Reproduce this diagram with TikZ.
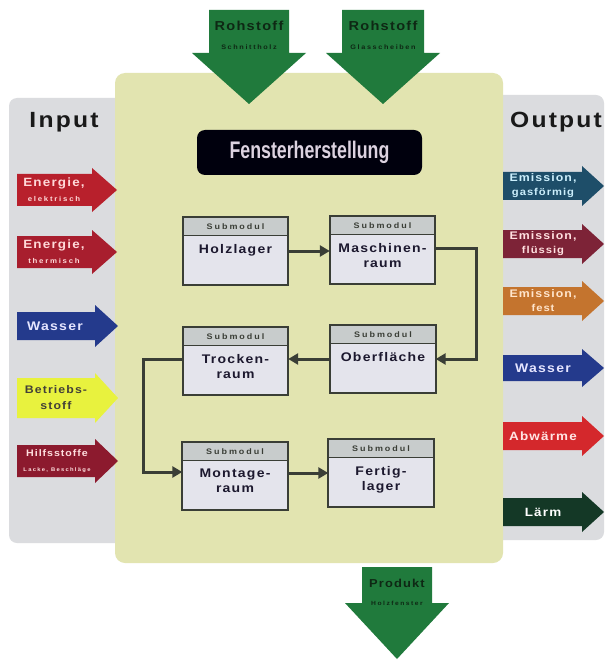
\documentclass[tikz,border=0pt]{standalone}
\usepackage{fontspec}
\setmainfont{Liberation Sans}
\newfontfamily\arrowface[FakeStretch=1.12,LetterSpace=10]{Liberation Sans}
\newfontfamily\smallface[FakeStretch=1.12,LetterSpace=25]{Liberation Sans}
\newfontfamily\narrowface[FakeStretch=0.74]{Liberation Sans}
\usetikzlibrary{arrows.meta}

\definecolor{panelgray}{RGB}{219,220,223}
\definecolor{panelyellow}{RGB}{226,228,176}
\definecolor{flowgreen}{RGB}{32,122,60}
\definecolor{greentext}{RGB}{14,40,20}
\definecolor{modbody}{RGB}{228,228,236}
\definecolor{modhead}{RGB}{200,204,204}
\definecolor{modtext}{RGB}{28,24,46}
\definecolor{linkgray}{RGB}{58,62,54}
\definecolor{titletext}{RGB}{220,210,224}
\definecolor{inRedA}{RGB}{184,32,44}
\definecolor{inRedB}{RGB}{168,30,46}
\definecolor{inBlue}{RGB}{36,58,140}
\definecolor{inYellow}{RGB}{232,242,62}
\definecolor{inMaroon}{RGB}{140,26,46}
\definecolor{outTeal}{RGB}{30,78,105}
\definecolor{outMaroon}{RGB}{125,35,55}
\definecolor{outOrange}{RGB}{196,116,46}
\definecolor{outRed}{RGB}{212,40,44}
\definecolor{outGreen}{RGB}{20,56,38}

\newcommand{\fs}[1]{\bfseries\fontsize{#1}{#1}\selectfont}

\tikzset{
  modbox/.style={fill=modbody, minimum width=105pt, minimum height=68pt, inner sep=0pt},
  modframe/.style={draw=linkgray, line width=1.8pt},
  flow/.style={draw=linkgray, line width=3pt,
    -{Triangle[length=10pt,width=11pt]}},
  headlabel/.style={font=\smallface\fs{8}, text=linkgray},
  modlabel/.style={font=\arrowface\bfseries\fontsize{12.5}{15}\selectfont, text=modtext,
    align=center, anchor=north, inner sep=0pt},
  arrowlabel/.style={align=center, inner sep=0pt},
}

% side arrow: #1 left x, #2 end of body, #3 tip x, #4 centre y,
% #5 half body height, #6 half head height, #7 colour
\newcommand{\sidearrow}[7]{%
  \fill[#7] (#1,#4-#5) -- (#2,#4-#5) -- (#2,#4-#6) -- (#3,#4)
    -- (#2,#4+#6) -- (#2,#4+#5) -- (#1,#4+#5) -- cycle;}

% downward flow arrow: #1 centre x, #2 top y, #3 half shaft width,
% #4 half head width, #5 head base y, #6 tip y
\newcommand{\dropflow}[6]{%
  \fill[flowgreen] (#1-#3,#2) -- (#1+#3,#2) -- (#1+#3,#5) -- (#1+#4,#5)
    -- (#1,#6) -- (#1-#4,#5) -- (#1-#3,#5) -- cycle;}

% sub-module box with a header strip
\newcommand{\submodul}[4]{%
  \node[modbox] (#1) at (#2,#3) {};
  \fill[modhead] (#1.north west) rectangle ([yshift=-19pt]#1.north east);
  \draw[linkgray, line width=0.8pt] ([yshift=-19pt]#1.north west)
    -- ([yshift=-19pt]#1.north east);
  \draw[modframe] (#1.north west) rectangle (#1.south east);
  \node[headlabel] (#1-head) at ([yshift=-10pt]#1.north) {Submodul};
  \node[modlabel] (#1-text) at ([yshift=-27pt]#1.north) {#4};}

\begin{document}
\begin{tikzpicture}[x=1pt,y=-1pt]
\useasboundingbox (0,0) rectangle (609,660);
\fill[white] (0,0) rectangle (609,660);

% side panels and central panel
\fill[panelgray, rounded corners=8pt] (9,98) rectangle (140,543);
\fill[panelgray, rounded corners=8pt] (480,95) rectangle (604,540);
\fill[panelyellow, rounded corners=10pt] (115,73) rectangle (503,563);

\node[font=\arrowface\fs{22}, text=black!90] (inputlabel) at (64,122) {Input};
\node[font=\arrowface\fs{22}, text=black!90] (outputlabel) at (556,122) {Output};

% raw materials and product
\dropflow{249}{10}{40}{57}{53}{104}
\node[arrowlabel, text=greentext] (rohA) at (249,35)
  {{\arrowface\fs{13}Rohstoff}\\[7pt]{\smallface\fs{6.5}Schnittholz}};
\dropflow{383}{10}{41}{57}{53}{104}
\node[arrowlabel, text=greentext] (rohB) at (383,35)
  {{\arrowface\fs{13}Rohstoff}\\[7pt]{\smallface\fs{6.5}Glasscheiben}};
\dropflow{397}{567}{35}{52}{603}{659}
\node[arrowlabel, text=greentext] (produkt) at (397,592)
  {{\arrowface\fs{11.5}Produkt}\\[6pt]{\smallface\fs{6}Holzfenster}};

% title bar
\node[fill=black!95!blue, rounded corners=8pt, minimum width=225pt, minimum height=45pt,
  text=titletext, font=\narrowface\fs{24}] (title) at (309.5,152.5)
  {Fensterherstellung};

% inputs
\sidearrow{17}{92}{117}{190}{16}{22}{inRedA}
\node[arrowlabel, text=red!15] (inA) at (54,190)
  {{\arrowface\fs{12}Energie,}\\[3pt]{\smallface\fs{7}elektrisch}};
\sidearrow{17}{92}{117}{252}{16}{22}{inRedB}
\node[arrowlabel, text=red!15] (inB) at (54,252)
  {{\arrowface\fs{12}Energie,}\\[3pt]{\smallface\fs{7}thermisch}};
\sidearrow{17}{95}{118}{326}{14}{21}{inBlue}
\node[arrowlabel, text=white!90!blue] (inC) at (55,326)
  {{\arrowface\fs{12.5}Wasser}};
\sidearrow{17}{95}{118}{398}{20}{25}{inYellow}
\node[arrowlabel, text=black!85!yellow] (inD) at (56,398)
  {{\arrowface\fs{11}Betriebs-}\\[4pt]{\arrowface\fs{11}stoff}};
\sidearrow{17}{95}{118}{461}{16}{22}{inMaroon}
\node[arrowlabel, text=red!12] (inE) at (57,461)
  {{\arrowface\fs{9.5}Hilfsstoffe}\\[3pt]{\smallface\fs{5.2}Lacke, Beschläge}};

% outputs
\sidearrow{503}{582}{604}{186}{14}{20}{outTeal}
\node[arrowlabel, text=white!80!cyan] (outA) at (543,186)
  {{\arrowface\fs{11}Emission,}\\[2pt]{\arrowface\fs{10}gasförmig}};
\sidearrow{503}{582}{604}{244}{14}{20}{outMaroon}
\node[arrowlabel, text=red!12] (outB) at (543,244)
  {{\arrowface\fs{11}Emission,}\\[2pt]{\arrowface\fs{10}flüssig}};
\sidearrow{503}{582}{604}{301}{14}{20}{outOrange}
\node[arrowlabel, text=orange!20] (outC) at (543,301)
  {{\arrowface\fs{11}Emission,}\\[2pt]{\arrowface\fs{10}fest}};
\sidearrow{503}{582}{604}{368}{13}{19}{inBlue}
\node[arrowlabel, text=white!90!blue] (outD) at (543,368)
  {{\arrowface\fs{12.5}Wasser}};
\sidearrow{503}{582}{604}{436}{14}{20}{outRed}
\node[arrowlabel, text=red!10] (outE) at (543,436)
  {{\arrowface\fs{12}Abwärme}};
\sidearrow{503}{582}{604}{512}{14}{20}{outGreen}
\node[arrowlabel, text=white!85] (outF) at (543,512)
  {{\arrowface\fs{12}Lärm}};

% sub-modules
\submodul{holz}{235.5}{251}{Holzlager}
\submodul{masch}{382.5}{250}{Maschinen-\\raum}
\submodul{trock}{235.5}{361}{Trocken-\\raum}
\submodul{ober}{383}{359}{Oberfläche}
\submodul{mont}{235}{476}{Montage-\\raum}
\submodul{fertig}{381}{473}{Fertig-\\lager}

% material flow between sub-modules
\draw[flow] (holz.east) -- (masch.west |- holz.east);
\draw[flow] ([yshift=2pt]masch.east) -- (476,248) |- (ober.east);
\draw[flow] (ober.west) -- (trock.east |- ober.west);
\draw[flow] (trock.west |- ober.west) -- (143,359) |- (mont.west |- 0,472);
\draw[flow] (mont.east |- 0,473) -- (fertig.west);
\end{tikzpicture}
\end{document}
